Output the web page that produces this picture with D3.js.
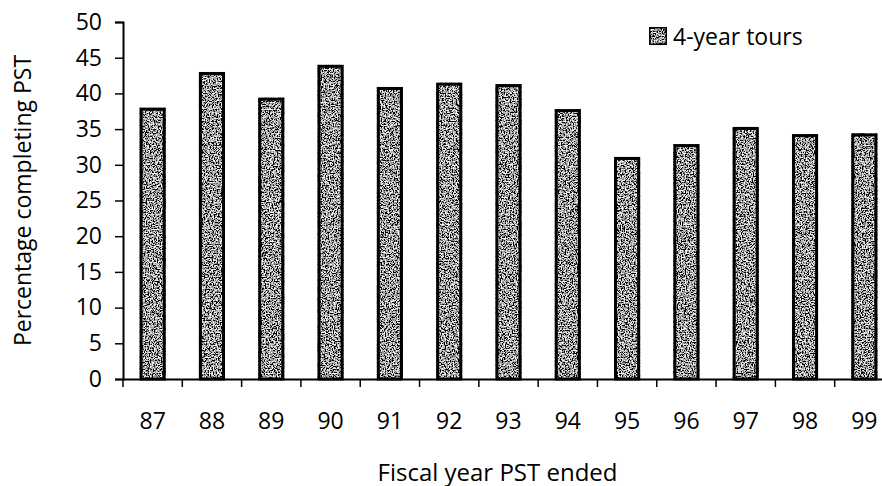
<!DOCTYPE html>
<html>
<head>
<meta charset="utf-8">
<script src="https://cdn.jsdelivr.net/npm/d3@7"></script>
<style>
  body { margin: 0; background: #fff; }
  text { font-family: "Open Sans", sans-serif; fill: #000; }
</style>
</head>
<body>
<div id="chart"></div>
<script>
var w = 882;
var h = 486;

// data
var years = ["87", "88", "89", "90", "91", "92", "93", "94", "95", "96", "97", "98", "99"];
var tours4 = [38, 43, 39.4, 44, 40.9, 41.5, 41.3, 37.8, 31.1, 32.9, 35.3, 34.3, 34.4];
var yTicks = [0, 5, 10, 15, 20, 25, 30, 35, 40, 45, 50];
var seriesName = "4-year tours";

// plot box (right edge runs past the picture, as in the scan)
var pLeft = 123, pTop = 22, pBottom = 379, pRight = 894;

var svg = d3.select("#chart")
    .append("svg")
    .attr("width", w)
    .attr("height", h);

// speckled grey fill
var defs = svg.append("defs");
var f = defs.append("filter").attr("id", "grain");
f.append("feTurbulence")
    .attr("type", "fractalNoise")
    .attr("baseFrequency", 0.75)
    .attr("numOctaves", 2)
    .attr("seed", 5)
    .attr("result", "t");
f.append("feColorMatrix")
    .attr("in", "t")
    .attr("type", "matrix")
    .attr("values", "3.6 0 0 0 -1.45  3.6 0 0 0 -1.45  3.6 0 0 0 -1.45  0 0 0 0 1")
    .attr("result", "g");
f.append("feComposite")
    .attr("in", "g")
    .attr("in2", "SourceGraphic")
    .attr("operator", "in");

var x = d3.scaleBand()
    .domain(years)
    .range([pLeft, pRight])
    .paddingInner(0.56)
    .paddingOuter(0.28);

var y = d3.scaleLinear()
    .domain([0, 50])
    .range([pBottom, pTop]);

// bars
var bars = svg.selectAll("g.bar")
    .data(tours4)
    .enter()
    .append("g")
    .attr("class", "bar");

bars.append("rect")
    .attr("x", function (d, i) { return x(years[i]); })
    .attr("y", function (d) { return y(d); })
    .attr("width", x.bandwidth())
    .attr("height", function (d) { return y(0) - y(d); })
    .attr("fill", "#666")
    .attr("filter", "url(#grain)");

bars.append("rect")
    .attr("x", function (d, i) { return x(years[i]) + 1.5; })
    .attr("y", function (d) { return y(d) + 1.5; })
    .attr("width", x.bandwidth() - 3)
    .attr("height", function (d) { return y(0) - y(d) - 1.5; })
    .attr("fill", "none")
    .attr("stroke", "#000")
    .attr("stroke-width", 3);

// y axis
var yAxis = d3.axisLeft(y)
    .tickValues(yTicks)
    .tickSize(8)
    .tickPadding(13);

var gy = svg.append("g")
    .attr("transform", "translate(" + pLeft + ",0)")
    .call(yAxis);
gy.select(".domain").attr("stroke", "#000").attr("stroke-width", 2);
gy.selectAll(".tick line").attr("stroke", "#000").attr("stroke-width", 1.5);
gy.selectAll(".tick text")
    .attr("font-family", "Open Sans, sans-serif")
    .attr("font-size", "23px")
    .attr("fill", "#000");

// x axis: ticks between categories, labels centred
var xAxis = d3.axisBottom(x)
    .tickSize(0)
    .tickPadding(34);

var gx = svg.append("g")
    .attr("transform", "translate(0," + pBottom + ")")
    .call(xAxis);
gx.select(".domain").attr("stroke", "#000").attr("stroke-width", 2);
gx.selectAll(".tick text")
    .attr("font-family", "Open Sans, sans-serif")
    .attr("font-size", "23px")
    .attr("fill", "#000");

var step = x.step();
svg.selectAll("line.xtick")
    .data(years)
    .enter()
    .append("line")
    .attr("class", "xtick")
    .attr("x1", function (d) { return x(d) + x.bandwidth() / 2 - step / 2; })
    .attr("x2", function (d) { return x(d) + x.bandwidth() / 2 - step / 2; })
    .attr("y1", pBottom)
    .attr("y2", pBottom + 8)
    .attr("stroke", "#000")
    .attr("stroke-width", 1.5);

// axis titles
svg.append("text")
    .attr("x", (pLeft + pRight) / 2 - 11)
    .attr("y", 481)
    .attr("text-anchor", "middle")
    .attr("font-size", "24px")
    .text("Fiscal year PST ended");

svg.append("text")
    .attr("transform", "translate(31," + (pTop + pBottom) / 2 + ") rotate(-90)")
    .attr("text-anchor", "middle")
    .attr("font-size", "23px")
    .text("Percentage completing PST");

// legend
var lg = svg.append("g").attr("transform", "translate(649,27)");
lg.append("rect")
    .attr("width", 18)
    .attr("height", 18)
    .attr("fill", "#888")
    .attr("filter", "url(#grain)");
lg.append("rect")
    .attr("x", 0.75)
    .attr("y", 0.75)
    .attr("width", 16.5)
    .attr("height", 16.5)
    .attr("fill", "none")
    .attr("stroke", "#000")
    .attr("stroke-width", 1.5);
lg.append("text")
    .attr("x", 24)
    .attr("y", 18)
    .attr("font-size", "23px")
    .text(seriesName);
</script>
</body>
</html>
